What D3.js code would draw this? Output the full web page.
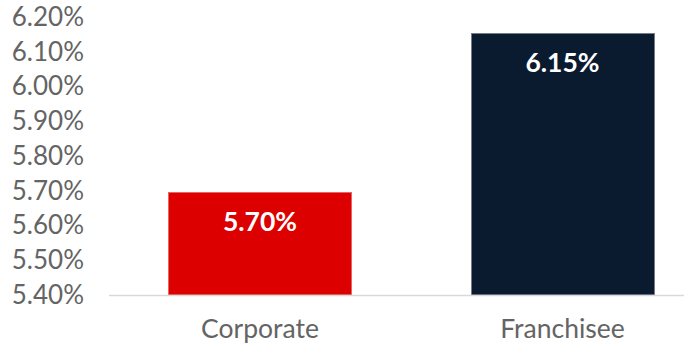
<!DOCTYPE html>
<html>
<head>
<meta charset="utf-8">
<script src="https://cdn.jsdelivr.net/npm/d3@7"></script>
<style>
  body { margin: 0; background: #fff; }
  svg { display: block; font-family: Lato, "Open Sans", sans-serif; }
</style>
</head>
<body>
<div id="chart"></div>
<script>
let categories = ["Corporate", "Franchisee"];
let values = [5.697, 6.154];
let barLabels = ["5.70%", "6.15%"];
let yTicks = [5.4, 5.5, 5.6, 5.7, 5.8, 5.9, 6.0, 6.1, 6.2];
let barColors = ["#dd0000", "#0a1a2f"];
let barEdges = ["#ea6464", "#737c88"];

let width = 688, height = 345;

let svg = d3.select("#chart")
    .append("svg")
    .attr("width", width)
    .attr("height", height);

// y scale, 5.40% at the baseline
let y = d3.scaleLinear()
    .domain([5.4, 6.2])
    .range([295, 17]);

// x scale, bands placed to line up with the bars
let x = d3.scaleBand()
    .domain(categories)
    .range([108.75, 713.75])
    .paddingInner(0.393)
    .paddingOuter(0.1965);

// y axis labels only, no line
let yAxis = svg.append("g")
    .attr("transform", "translate(84,0)")
    .call(d3.axisLeft(y).tickValues(yTicks).tickSize(0).tickPadding(0)
        .tickFormat(d => d3.format(".2f")(d) + "%"));
yAxis.select(".domain").remove();
yAxis.selectAll("text")
    .attr("fill", "#646464")
    .style("font-size", "26px")
    .style("font-family", "Lato, sans-serif");

// bars
svg.selectAll(".bar")
    .data(categories)
    .enter()
    .append("rect")
    .attr("class", "bar")
    .attr("x", d => Math.round(x(d)) + 0.5)
    .attr("y", (d, i) => Math.round(y(values[i])) + 0.5)
    .attr("width", Math.round(x.bandwidth()) - 1)
    .attr("height", (d, i) => Math.round(y(5.4)) - Math.round(y(values[i])) - 0.5)
    .attr("fill", (d, i) => barColors[i])
    .attr("stroke", (d, i) => barEdges[i])
    .attr("stroke-width", 1);

// baseline
svg.append("line")
    .attr("x1", 109)
    .attr("x2", 684)
    .attr("y1", y(5.4) + 0.5)
    .attr("y2", y(5.4) + 0.5)
    .attr("stroke", "#d9d9d9")
    .attr("stroke-width", 1.6);

// value labels inside bars
svg.selectAll(".value")
    .data(categories)
    .enter()
    .append("text")
    .attr("class", "value")
    .attr("x", d => x(d) + x.bandwidth() / 2)
    .attr("y", (d, i) => y(values[i]) + 39)
    .attr("text-anchor", "middle")
    .attr("fill", "#fff")
    .style("font-size", "26.5px")
    .style("font-weight", "bold")
    .text((d, i) => barLabels[i]);

// category labels
svg.selectAll(".cat")
    .data(categories)
    .enter()
    .append("text")
    .attr("class", "cat")
    .attr("x", d => x(d) + x.bandwidth() / 2)
    .attr("y", 338)
    .attr("text-anchor", "middle")
    .attr("fill", "#646464")
    .style("font-size", "26.5px")
    .text(d => d);
</script>
</body>
</html>
